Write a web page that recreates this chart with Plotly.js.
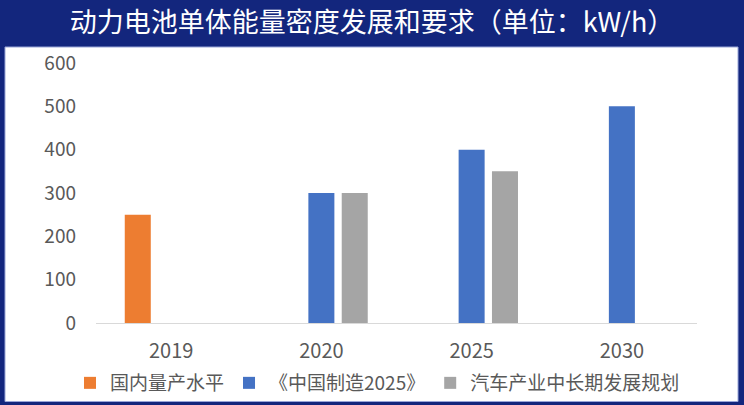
<!DOCTYPE html>
<html>
<head>
<meta charset="utf-8">
<script src="https://cdn.plot.ly/plotly-3.0.1.min.js"></script>
<style>
  html, body { margin: 0; padding: 0; background: #13267d; }
  #chart { width: 744px; height: 405px; }
</style>
</head>
<body>
<div id="chart"></div>
<script>
const categories = ['2019', '2020', '2025', '2030'];
const seriesNames = ['国内量产水平', '《中国制造2025》', '汽车产业中长期发展规划'];
const domesticLevel = [250, null, null, null];
const madeInChina2025 = [null, 300, 400, 500];
const autoIndustryPlan = [null, 300, 350, null];
const yTickValues = [0, 100, 200, 300, 400, 500, 600];
const titleText = '动力电池单体能量密度发展和要求（单位：kW/h）';

const W = 744, H = 405;
const M = { l: 96, r: 47, t: 63, b: 82, autoexpand: false };
const pw = W - M.l - M.r, ph = H - M.t - M.b;
const px = v => (v - M.l) / pw;
const py = v => (H - M.b - v) / ph;

const font = '"Noto Sans CJK SC", "Noto Sans", sans-serif';
const colors = ['#ED7D31', '#4472C4', '#A5A5A5'];
const seriesValues = [domesticLevel, madeInChina2025, autoIndustryPlan];

const data = seriesValues.map((vals, i) => ({
  type: 'bar',
  name: seriesNames[i],
  x: categories,
  y: vals,
  marker: { color: colors[i] },
  hoverinfo: 'x+y+name'
}));

const layout = {
  width: W, height: H,
  margin: M,
  paper_bgcolor: '#13267d',
  plot_bgcolor: 'rgba(0,0,0,0)',
  barmode: 'group',
  bargap: 0.334,
  bargroupgap: 0.22,
  font: { family: font, color: '#595959', size: 18 },
  title: {
    text: titleText,
    font: { family: font, color: '#ffffff', size: 27 },
    x: 0.5, xref: 'container', xanchor: 'center',
    y: 1 - 23 / H, yref: 'container', yanchor: 'middle'
  },
  xaxis: {
    type: 'category',
    showline: true, linecolor: '#D9D9D9', linewidth: 1,
    showgrid: false, zeroline: false,
    ticks: '', ticklabelstandoff: 10,
    tickfont: { family: font, size: 20, color: '#595959' }
  },
  yaxis: {
    range: [0, 600],
    tickvals: yTickValues,
    showgrid: false, zeroline: false, showline: false,
    ticks: '', ticklabelstandoff: 19,
    tickfont: { family: font, size: 19, color: '#595959' }
  },
  showlegend: true,
  legend: {
    orientation: 'h',
    x: px(70), xanchor: 'left',
    y: py(383), yanchor: 'middle',
    font: { family: font, size: 19, color: '#595959' },
    bgcolor: 'rgba(0,0,0,0)',
    itemwidth: 30,
    traceorder: 'normal'
  },
  shapes: [
    {
      type: 'rect', layer: 'below',
      xref: 'paper', yref: 'paper',
      x0: px(5), x1: px(738), y0: py(47), y1: py(401.5),
      fillcolor: '#ffffff',
      line: { color: '#9aa6d8', width: 1 }
    }
  ]
};

Plotly.newPlot('chart', data, layout, { displayModeBar: false, staticPlot: false });
</script>
</body>
</html>
